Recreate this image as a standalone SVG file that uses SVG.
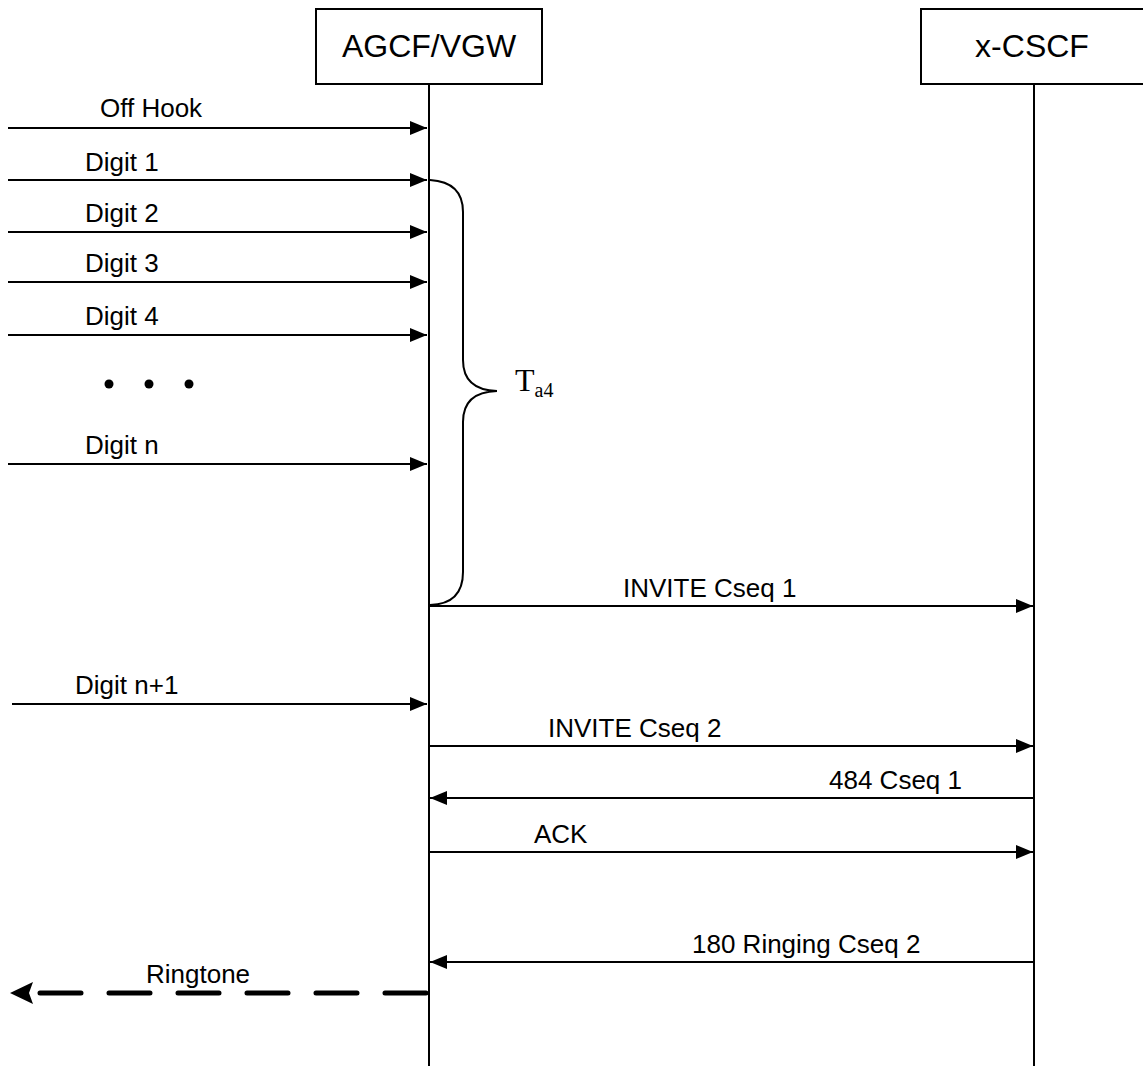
<svg xmlns="http://www.w3.org/2000/svg" width="1143" height="1066" viewBox="0 0 1143 1066">
<style>
.box{fill:#fff;stroke:#000;stroke-width:2}
.life{stroke:#000;stroke-width:2;fill:none}
.msg{stroke:#000;stroke-width:2;fill:none}
.lbl{font-family:"Liberation Sans",Arial,sans-serif;font-size:26px;fill:#000}
.title{font-family:"Liberation Sans",Arial,sans-serif;font-size:32px;fill:#000}
.serif{font-family:"Liberation Serif","Times New Roman",serif;fill:#000}
</style>
<defs>
<marker id="ah" markerWidth="17" markerHeight="14" refX="17" refY="7" orient="auto" markerUnits="userSpaceOnUse">
<path d="M0,0 L17,7 L0,14 Z" fill="#000"/>
</marker>
</defs>
<rect width="1143" height="1066" fill="#fff"/>
<g id="node-agcf">
<rect class="box" x="316" y="9" width="226" height="75"/>
<text class="title" x="429" y="57" text-anchor="middle">AGCF/VGW</text>
<line class="life" x1="429" y1="84" x2="429" y2="1066"/>
</g>
<g id="node-xcscf">
<rect class="box" x="921" y="9" width="240" height="75"/>
<text class="title" x="1032" y="57" text-anchor="middle">x-CSCF</text>
<line class="life" x1="1034" y1="84" x2="1034" y2="1066"/>
</g>
<g id="connectors">
<line class="msg" x1="8" y1="128" x2="427" y2="128" marker-end="url(#ah)"/>
<line class="msg" x1="8" y1="180" x2="427" y2="180" marker-end="url(#ah)"/>
<line class="msg" x1="8" y1="232" x2="427" y2="232" marker-end="url(#ah)"/>
<line class="msg" x1="8" y1="282" x2="427" y2="282" marker-end="url(#ah)"/>
<line class="msg" x1="8" y1="335" x2="427" y2="335" marker-end="url(#ah)"/>
<line class="msg" x1="8" y1="464" x2="427" y2="464" marker-end="url(#ah)"/>
<line class="msg" x1="429" y1="606" x2="1033" y2="606" marker-end="url(#ah)"/>
<line class="msg" x1="12" y1="704" x2="427" y2="704" marker-end="url(#ah)"/>
<line class="msg" x1="429" y1="746" x2="1033" y2="746" marker-end="url(#ah)"/>
<line class="msg" x1="1034" y1="798" x2="430" y2="798" marker-end="url(#ah)"/>
<line class="msg" x1="429" y1="852" x2="1033" y2="852" marker-end="url(#ah)"/>
<line class="msg" x1="1034" y1="962" x2="430" y2="962" marker-end="url(#ah)"/>
<line x1="426" y1="993" x2="40" y2="993" stroke="#000" stroke-width="5" stroke-linecap="round" stroke-dasharray="41 28"/>
<path d="M10,993 L33,982 L29,993 L33,1004 Z" fill="#000"/>
<path d="M430,180 Q463,182 463,212 L463,360 Q463,390 497,391 Q463,392 463,422 L463,572 Q463,604 430,605" class="msg"/>
</g>
<g id="labels">
<text class="lbl" x="100" y="117">Off Hook</text>
<text class="lbl" x="85" y="171">Digit 1</text>
<text class="lbl" x="85" y="222">Digit 2</text>
<text class="lbl" x="85" y="272">Digit 3</text>
<text class="lbl" x="85" y="325">Digit 4</text>
<circle cx="109" cy="384" r="4.5"/>
<circle cx="149" cy="384" r="4.5"/>
<circle cx="189" cy="384" r="4.5"/>
<text class="lbl" x="85" y="454">Digit n</text>
<text class="serif" x="515" y="391" font-size="32">T<tspan font-size="20" dy="6">a4</tspan></text>
<text class="lbl" x="623" y="597">INVITE Cseq 1</text>
<text class="lbl" x="75" y="694">Digit n+1</text>
<text class="lbl" x="548" y="737">INVITE Cseq 2</text>
<text class="lbl" x="829" y="789">484 Cseq 1</text>
<text class="lbl" x="534" y="843">ACK</text>
<text class="lbl" x="692" y="953">180 Ringing Cseq 2</text>
<text class="lbl" x="146" y="983">Ringtone</text>
</g>
</svg>
